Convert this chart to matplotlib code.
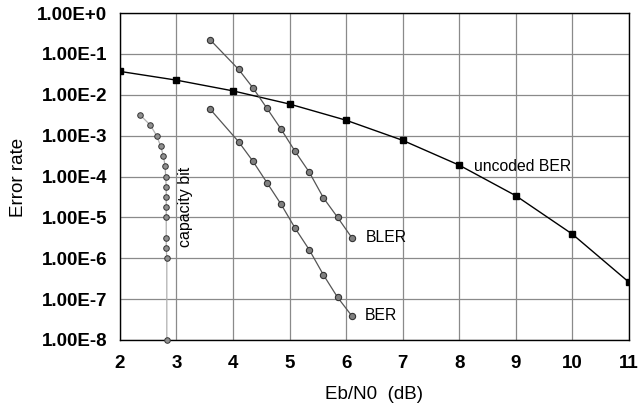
import numpy as np
import matplotlib
matplotlib.use("Agg")
import matplotlib.pyplot as plt

plt.rcParams['font.family'] = ['Liberation Sans', 'DejaVu Sans']

# uncoded BPSK
unc_x = [2, 3, 4, 5, 6, 7, 8, 9, 10, 11]
unc_y = [3.75e-2, 2.29e-2, 1.25e-2, 5.95e-3, 2.39e-3, 7.7e-4, 1.9e-4, 3.4e-5, 3.9e-6, 2.6e-7]

# coded curves
bler_x = [3.6, 4.1, 4.35, 4.6, 4.85, 5.1, 5.35, 5.6, 5.85, 6.1]
bler_y = [2.2e-1, 4.2e-2, 1.5e-2, 4.7e-3, 1.45e-3, 4.1e-4, 1.27e-4, 3.0e-5, 1.0e-5, 3.2e-6]
ber_x = [3.6, 4.1, 4.35, 4.6, 4.85, 5.1, 5.35, 5.6, 5.85, 6.1]
ber_y = [4.4e-3, 7.1e-4, 2.4e-4, 7.1e-5, 2.1e-5, 5.4e-6, 1.6e-6, 3.9e-7, 1.1e-7, 3.9e-8]

# capacity bound
cap_x = [2.36, 2.54, 2.65, 2.72, 2.77, 2.80, 2.81, 2.82, 2.82, 2.82, 2.82, 2.82, 2.82, 2.83, 2.83]
cap_y = [3.2e-3, 1.8e-3, 1.0e-3, 5.6e-4, 3.2e-4, 1.8e-4, 1.0e-4, 5.6e-5, 3.2e-5, 1.8e-5, 1.0e-5, 3.2e-6, 1.8e-6, 1.0e-6, 1.0e-8]

xticks = [2, 3, 4, 5, 6, 7, 8, 9, 10, 11]
yticks = [1e0, 1e-1, 1e-2, 1e-3, 1e-4, 1e-5, 1e-6, 1e-7, 1e-8]
ylabels = ["1.00E+0", "1.00E-1", "1.00E-2", "1.00E-3", "1.00E-4", "1.00E-5", "1.00E-6", "1.00E-7", "1.00E-8"]

fig = plt.figure(figsize=(6.41, 4.11), dpi=100)
ax = fig.add_axes([0.187, 0.173, 0.794, 0.795])

ax.set_yscale('log')
ax.set_xlim(2, 11)
ax.set_ylim(1e-8, 1)
ax.set_xticks(xticks)
ax.set_yticks(yticks)
ax.set_yticklabels(ylabels)
ax.minorticks_off()
ax.grid(True, color="#8a8a8a", linewidth=0.9)
ax.set_axisbelow(True)
ax.tick_params(length=0, labelsize=13.5)
ax.tick_params(axis='y', pad=9)
ax.tick_params(axis='x', pad=11)
for lab in ax.get_xticklabels() + ax.get_yticklabels():
    lab.set_fontweight('bold')
for s in ax.spines.values():
    s.set_color('black')
    s.set_linewidth(1.0)

ax.plot(cap_x, cap_y, color="#b0b0b0", linewidth=0.9, marker='o', markersize=4,
        markerfacecolor="#909090", markeredgecolor="#333333", markeredgewidth=0.7, clip_on=False, zorder=3)
ax.plot(unc_x, unc_y, color="black", linewidth=1.0, marker='s', markersize=4.5,
        markerfacecolor="black", markeredgecolor="black", zorder=4)
ax.plot(bler_x, bler_y, color="#555555", linewidth=0.9, marker='o', markersize=4.5,
        markerfacecolor="#808080", markeredgecolor="#333333", markeredgewidth=0.8, zorder=4)
ax.plot(ber_x, ber_y, color="#555555", linewidth=0.9, marker='o', markersize=4.5,
        markerfacecolor="#808080", markeredgecolor="#333333", markeredgewidth=0.8, zorder=4)

ax.text(3.03, 1.8e-5, "capacity bit", rotation=90, fontsize=11.5, ha='left', va='center')
ax.text(8.27, 1.8e-4, "uncoded BER", fontsize=11.3, ha='left', va='center')
ax.text(6.35, 3.2e-6, "BLER", fontsize=11.3, ha='left', va='center')
ax.text(6.33, 3.9e-8, "BER", fontsize=11.3, ha='left', va='center')

ax.set_xlabel("Eb/N0  (dB)", fontsize=13.5, va='center')
ax.set_ylabel("Error rate", fontsize=13.5, va='center', rotation_mode='default')
ax.xaxis.set_label_coords(0.5, -0.168)
ax.yaxis.set_label_coords(-0.2, 0.498)

fig.savefig("out.png", dpi=100)
